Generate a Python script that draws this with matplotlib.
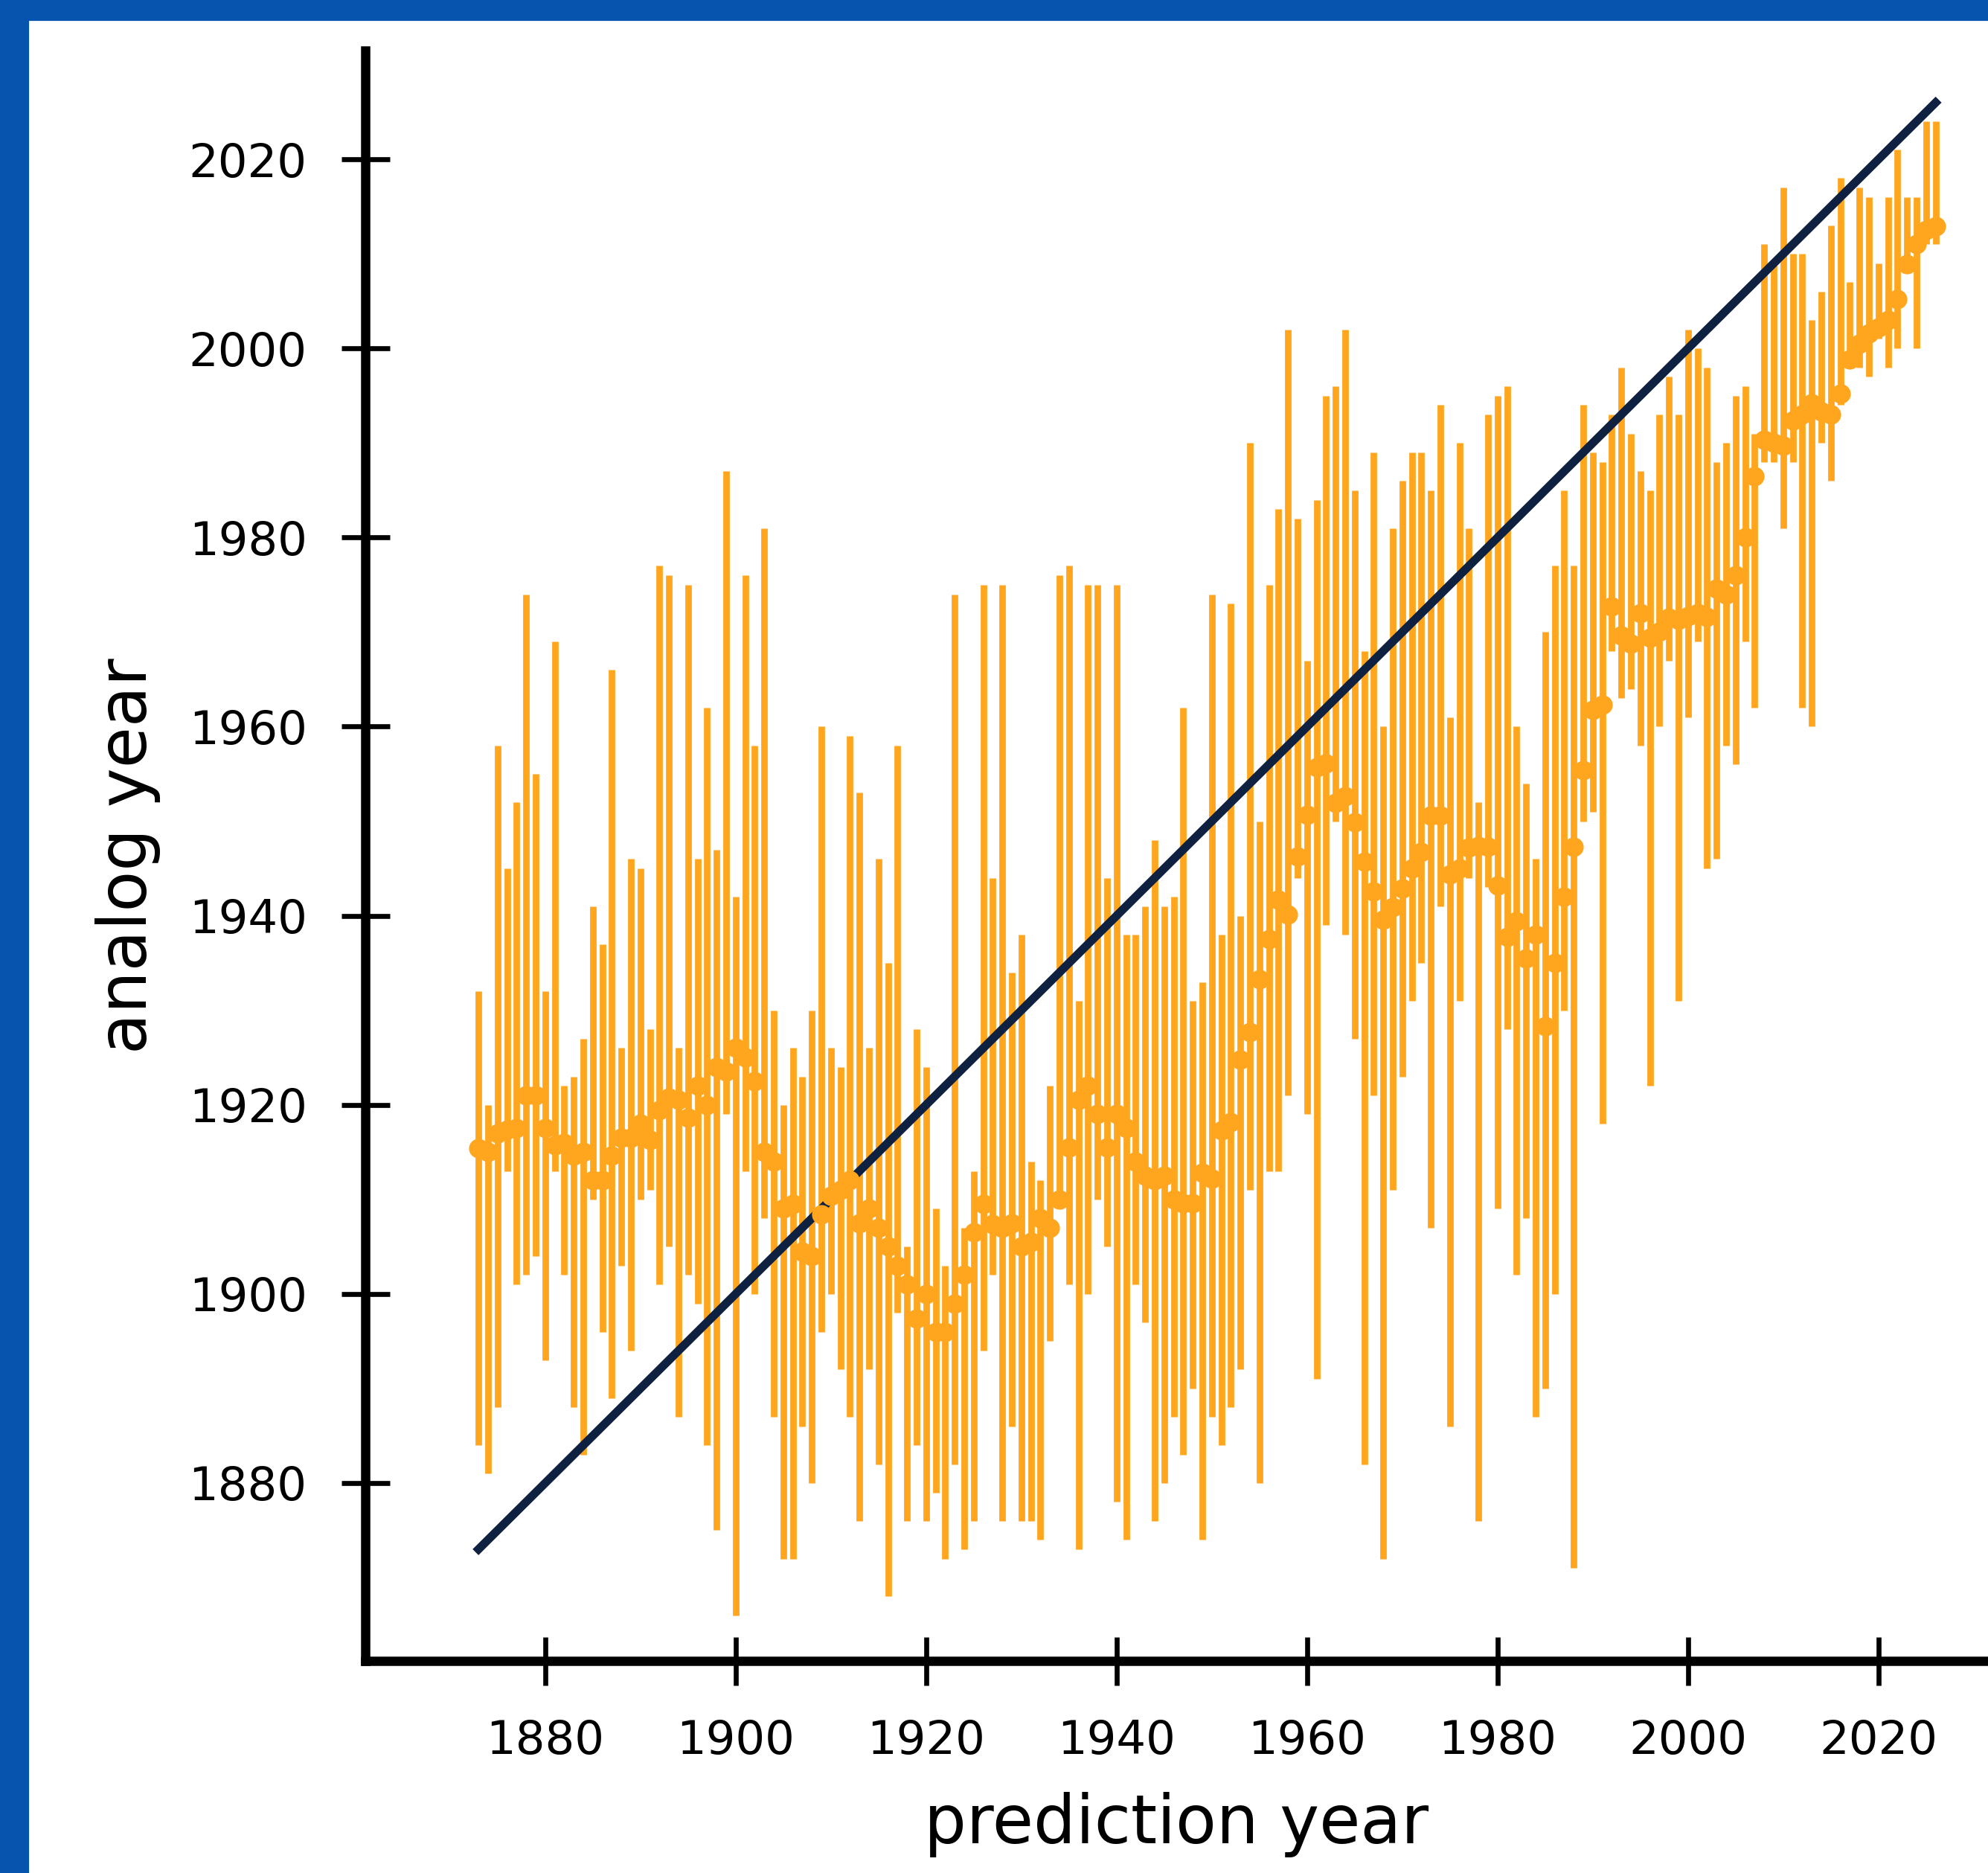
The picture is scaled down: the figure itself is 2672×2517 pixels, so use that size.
import numpy as np
import matplotlib.pyplot as plt
from matplotlib.patches import Rectangle

# prediction years
years = np.arange(1873, 2027)

# analog year (median of analogs)
med = np.array([
    1915.4, 1915.0, 1917.0, 1917.4, 1917.5, 1921.0, 1921.0, 1917.5, 1915.7, 1916.0,  # 1873-1882
    1914.6, 1915.0, 1912.0, 1912.0, 1914.6, 1916.5, 1916.5, 1918.0, 1916.3, 1919.4,  # 1883-1892
    1920.8, 1920.5, 1918.6, 1922.0, 1920.0, 1924.0, 1923.5, 1926.0, 1925.0, 1922.5,  # 1893-1902
    1915.0, 1914.0, 1909.0, 1909.5, 1904.5, 1904.0, 1908.4, 1910.4, 1911.0, 1912.0,  # 1903-1912
    1907.5, 1909.0, 1907.0, 1905.0, 1903.0, 1901.0, 1897.4, 1900.0, 1896.0, 1896.0,  # 1913-1922
    1899.0, 1902.0, 1906.5, 1909.5, 1907.4, 1907.0, 1907.5, 1905.0, 1905.5, 1908.0,  # 1923-1932
    1907.0, 1910.0, 1915.5, 1920.5, 1922.0, 1919.0, 1915.5, 1919.0, 1917.5, 1914.0,  # 1933-1942
    1912.5, 1912.0, 1912.5, 1910.0, 1909.6, 1909.6, 1912.8, 1912.2, 1917.3, 1918.2,  # 1943-1952
    1924.8, 1927.7, 1933.3, 1937.5, 1941.7, 1940.1, 1946.3, 1950.7, 1955.7, 1956.1,  # 1953-1962
    1951.9, 1952.6, 1949.9, 1945.7, 1942.6, 1939.6, 1940.9, 1942.9, 1945.0, 1946.7,  # 1963-1972
    1950.6, 1950.6, 1944.4, 1945.0, 1947.2, 1947.4, 1947.3, 1943.2, 1937.8, 1939.4,  # 1973-1982
    1935.5, 1938.0, 1928.3, 1935.0, 1942.0, 1947.3, 1955.4, 1961.8, 1962.3, 1972.7,  # 1983-1992
    1969.6, 1968.8, 1972.0, 1969.4, 1970.0, 1971.5, 1971.3, 1971.7, 1972.0, 1971.6,  # 1993-2002
    1974.6, 1974.0, 1976.0, 1980.0, 1986.5, 1990.3, 1990.0, 1989.7, 1992.4, 1993.0,  # 2003-2012
    1994.2, 1993.3, 1993.0, 1995.2, 1998.8, 2000.5, 2001.6, 2002.2, 2003.0, 2005.2,  # 2013-2022
    2008.9, 2011.0, 2012.5, 2012.9])                                                  # 2023-2026

# upper end of the analog range
hi = np.array([
    1932, 1920, 1958, 1945, 1952, 1974, 1955, 1932, 1969, 1922,
    1923, 1927, 1941, 1937, 1966, 1926, 1946, 1945, 1928, 1977,
    1976, 1926, 1975, 1946, 1962, 1947, 1987, 1942, 1976, 1958,
    1981, 1930, 1920, 1926, 1923, 1930, 1960, 1926, 1924, 1959,
    1953, 1926, 1946, 1935, 1958, 1905, 1928, 1924, 1909, 1903,
    1974, 1907, 1913, 1975, 1944, 1975, 1934, 1938, 1914, 1912,
    1922, 1976, 1977, 1931, 1975, 1975, 1944, 1975, 1938, 1938,
    1941, 1948, 1941, 1942, 1962, 1931, 1933, 1974, 1938, 1973,
    1940, 1990, 1950, 1975, 1983, 2002, 1982, 1967, 1984, 1995,
    1996, 2002, 1985, 1968, 1989, 1960, 1981, 1986, 1989, 1989,
    1985, 1994, 1961, 1990, 1981, 1952, 1993, 1995, 1996, 1960,
    1954, 1946, 1970, 1977, 1985, 1977, 1994, 1989, 1988, 1993,
    1998, 1991, 1987, 1985, 1993, 1997, 1993, 2002, 2000, 1998,
    1988, 1990, 1995, 1996, 1991, 2011, 2009, 2017, 2010, 2010,
    2003, 2006, 2013, 2018, 2007, 2017, 2016, 2009, 2016, 2021,
    2016, 2016, 2024, 2024])

# lower end of the analog range
lo = np.array([
    1884, 1881, 1888, 1913, 1901, 1902, 1904, 1893, 1913, 1902,
    1888, 1883, 1910, 1896, 1889, 1903, 1894, 1910, 1911, 1901,
    1905, 1887, 1902, 1899, 1884, 1875, 1919, 1866, 1913, 1900,
    1908, 1887, 1872, 1872, 1886, 1880, 1896, 1900, 1892, 1887,
    1876, 1892, 1882, 1868, 1898, 1876, 1884, 1876, 1879, 1872,
    1882, 1873, 1876, 1894, 1902, 1876, 1886, 1876, 1876, 1874,
    1895, 1909, 1901, 1873, 1900, 1910, 1905, 1878, 1874, 1901,
    1897, 1876, 1880, 1887, 1883, 1890, 1874, 1887, 1884, 1888,
    1892, 1911, 1880, 1913, 1913, 1921, 1944, 1919, 1891, 1939,
    1950, 1938, 1927, 1882, 1921, 1872, 1911, 1923, 1931, 1935,
    1907, 1941, 1886, 1931, 1944, 1876, 1943, 1909, 1928, 1902,
    1908, 1887, 1890, 1900, 1930, 1871, 1950, 1951, 1918, 1968,
    1963, 1964, 1958, 1922, 1960, 1967, 1931, 1961, 1969, 1945,
    1946, 1958, 1956, 1969, 1962, 1988, 1988, 1981, 1988, 1962,
    1960, 1990, 1986, 1994, 1998, 1998, 1997, 2001, 1998, 2000,
    2008, 2000, 2011, 2011])

orange = '#ffa51e'
navy = '#0f2140'

fig = plt.figure(figsize=(2672 / 300, 2517 / 300), dpi=300)
ax = fig.add_axes([0.1837, 0.1133, 0.8163, 0.8597])

# analog ranges
ax.errorbar(years, med, yerr=[med - lo, hi - med], fmt='none',
            ecolor=orange, elinewidth=2.1, capsize=0, zorder=1)
# one-to-one line
ax.plot([years[0], years[-1]], [years[0], years[-1]], color=navy, linewidth=2.7, zorder=2)
# medians
ax.plot(years, med, 'o', color=orange, markersize=6.3, markeredgewidth=0, zorder=3)

ax.set_xlim(1861.1, 2031.5)
ax.set_ylim(1861.2, 2031.5)
ax.set_xticks([1880, 1900, 1920, 1940, 1960, 1980, 2000, 2020])
ax.set_yticks([1880, 1900, 1920, 1940, 1960, 1980, 2000, 2020])

ax.spines['top'].set_visible(False)
ax.spines['right'].set_visible(False)
ax.spines['left'].set_linewidth(3.0)
ax.spines['bottom'].set_linewidth(3.0)
ax.tick_params(direction='inout', length=15.6, width=1.6, pad=11, labelsize=15)

ax.set_xlabel('prediction year', fontsize=21.5, labelpad=9)
ax.set_ylabel('analog year', fontsize=21.5, labelpad=9)

# blue frame along the top and left edges
fig.add_artist(Rectangle((0, 0), 37 / 2672, 1, transform=fig.transFigure,
                         color='#0754ae', zorder=10))
fig.add_artist(Rectangle((0, 1 - 26 / 2517), 1, 26 / 2517, transform=fig.transFigure,
                         color='#0754ae', zorder=10))

fig.savefig('out.png', dpi=300)
